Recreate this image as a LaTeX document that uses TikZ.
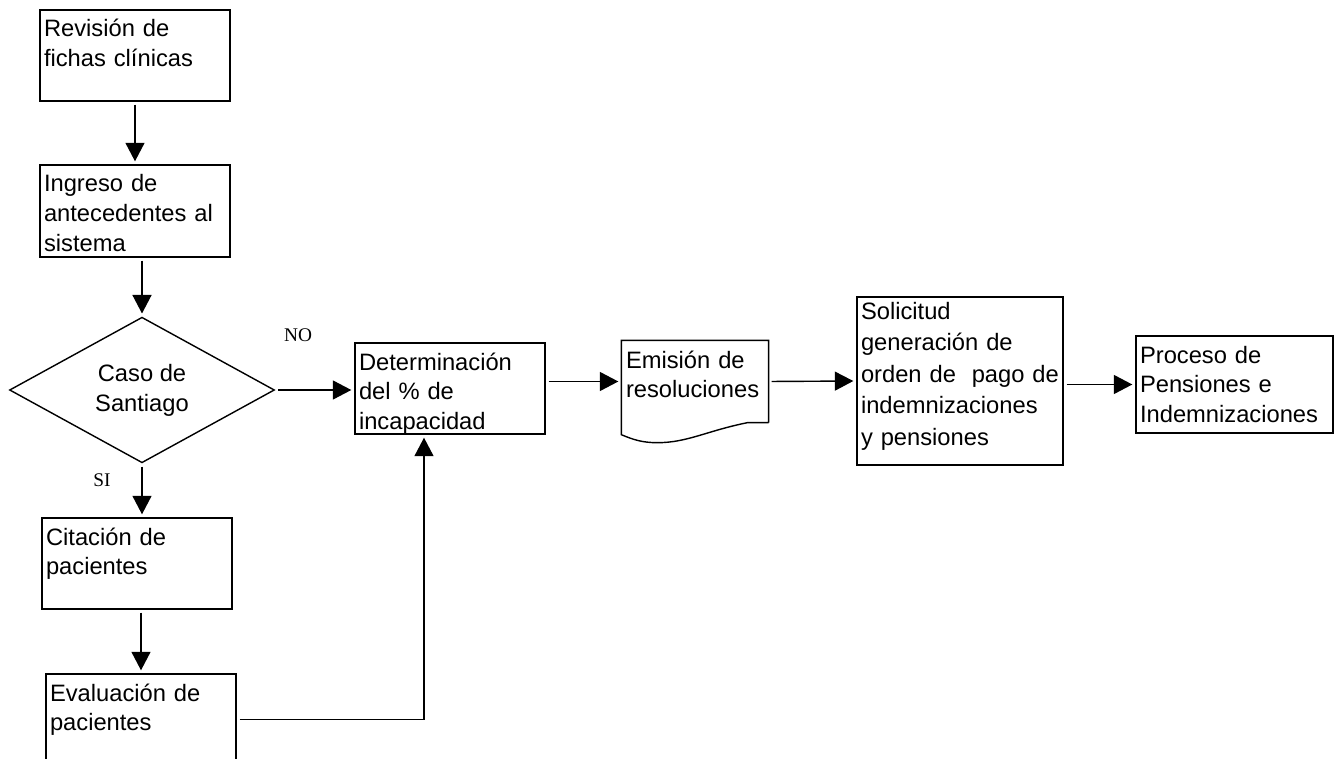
\documentclass[tikz,border=0pt]{standalone}
\usepackage{fontspec}
\setmainfont{Liberation Sans}
\newfontfamily\labelserif{Liberation Serif}
\usetikzlibrary{arrows.meta,calc,positioning,shapes.geometric}

\begin{document}
\begin{tikzpicture}[
  x=0.02cm, y=-0.02cm,
  >={Triangle[length=0.37cm,width=0.38cm]},
  font=\fontsize{13.5}{17}\selectfont,
  line width=0.8pt,
  procbox/.style 2 args={draw, rectangle, inner xsep=0.08cm, inner ysep=0.04cm, align=left, text width=#1, text height=0.5cm, text depth=#2},
  docbox/.style 2 args={procbox={#1}{#2}, draw=none},
  decision/.style={draw, diamond, inner sep=0pt, minimum width=5.3cm, minimum height=2.74cm, align=center},
  flow/.style={->, shorten >=0.06cm, shorten <=0.06cm},
  answer/.style={font=\labelserif\fontsize{11}{13}\selectfont}
]
\useasboundingbox (0,0) rectangle (1334,759);
\clip (0,0) rectangle (1334,759);

% left column
\node[procbox={3.64cm}{1.24cm}] (revision) at (135,55.5) {Revisión de\\fichas clínicas};
\node[procbox={3.64cm}{1.26cm}] (ingreso) at (135,211) {Ingreso de\\antecedentes al\\sistema};
\node[decision] (caso) at (142,390) {Caso de\\Santiago};
\node[procbox={3.64cm}{1.24cm}] (citacion) at (137,563.5) {Citación de\\pacientes};
\node[procbox={3.64cm}{1.24cm}] (evaluacion) at (141,719.5) {Evaluación de\\pacientes};

\node[answer] (no) at (298,335) {NO};
\node[answer] (si) at (102,480) {SI};

% main row
\node[procbox={3.64cm}{1.24cm}] (determinacion) at (450,388.5) {Determinación\\del \% de\\incapacidad};
\node[docbox={2.76cm}{1.04cm}] (emision) at (695,381.5) {Emisión de\\resoluciones};
\node[procbox={3.96cm}{2.88cm}, text height=0.4cm, font=\fontsize{13.5}{18}\selectfont] (solicitud) at (960,381) {Solicitud\\generación de\\orden de~~pago de\\indemnizaciones\\y pensiones};
\node[procbox={3.78cm}{1.36cm}] (proceso) at (1234.5,384.5) {Proceso de\\Pensiones e\\Indemnizaciones};

% document outline
\draw (emision.south east) -- (emision.north east) -- (emision.north west)
  -- ($(emision.south west)+(0,12)$)
  .. controls +(12,5) and +(-15,0) .. ++(36,8)
  .. controls +(30,0) and +(-40,8) .. ++(90,-20)
  -- (emision.south east);

% connectors
\draw[flow] (revision) -- (ingreso);
\draw[flow] (caso.north |- ingreso.south) -- (caso.north);
\draw[flow] (caso.east) -- (caso.east -| determinacion.west);
\draw[flow] (caso.south) -- (caso.south |- citacion.north);
\draw[flow] (evaluacion.north |- citacion.south) -- (evaluacion.north);
\draw[flow] (evaluacion.east) -| ([xshift=-0.52cm]determinacion.south);
\draw[flow] (determinacion.east |- emision.west) -- (emision.west);
\draw[flow] (emision.east) -- (solicitud.west);
\draw[flow] (solicitud.east |- proceso.west) -- (proceso.west);

\end{tikzpicture}
\end{document}
